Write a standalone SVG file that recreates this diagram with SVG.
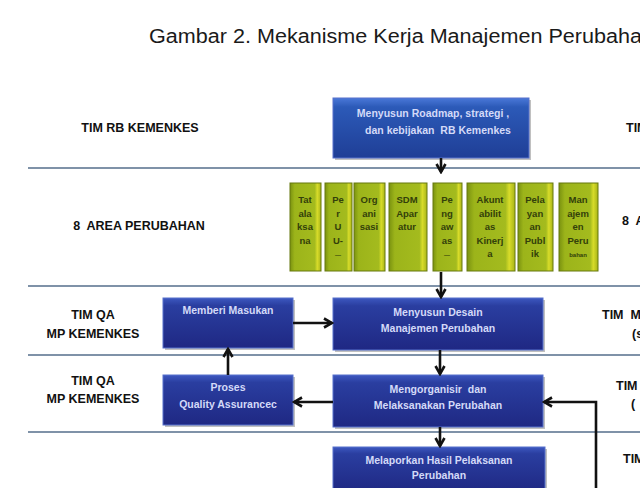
<svg xmlns="http://www.w3.org/2000/svg" width="640" height="488" viewBox="0 0 640 488">
<defs>
<linearGradient id="blue" x1="0" y1="0" x2="0" y2="1">
<stop offset="0" stop-color="#3d58c0"/>
<stop offset="0.15" stop-color="#2a3ea0"/>
<stop offset="1" stop-color="#1f2883"/>
</linearGradient>
<linearGradient id="blue1" x1="0" y1="0" x2="0" y2="1">
<stop offset="0" stop-color="#4a78d8"/>
<stop offset="0.15" stop-color="#2c5ab8"/>
<stop offset="1" stop-color="#1f3e96"/>
</linearGradient>
<linearGradient id="green" x1="0" y1="0" x2="1" y2="0">
<stop offset="0" stop-color="#7a9210"/>
<stop offset="0.15" stop-color="#9cb41a"/>
<stop offset="0.8" stop-color="#a4bb1e"/>
<stop offset="0.88" stop-color="#d8dc2a"/>
<stop offset="1" stop-color="#a8b418"/>
</linearGradient>
<marker id="ah" viewBox="0 0 12 12" refX="10" refY="6" markerWidth="12" markerHeight="12" markerUnits="userSpaceOnUse" orient="auto">
<path d="M2,1.5 L10,6 L2,10.5" fill="none" stroke="#111" stroke-width="2.6" stroke-linejoin="miter"/>
</marker>
<style>
.title{font-family:"Liberation Sans",Arial,sans-serif;font-size:19.5px;fill:#1a1a1a}
.lbl{font-family:"Liberation Sans",Arial,sans-serif;font-weight:bold;font-size:12.5px;fill:#111;text-anchor:middle}
.lbr{font-family:"Liberation Sans",Arial,sans-serif;font-weight:bold;font-size:12.5px;fill:#111}
.bt{font-family:"Liberation Sans",Arial,sans-serif;font-weight:bold;font-size:10.5px;fill:#d4daf8;text-anchor:middle}
.gt{font-family:"Liberation Sans",Arial,sans-serif;font-weight:bold;font-size:9.5px;fill:#33400a;text-anchor:middle}
.sep{stroke:#7f92a8;stroke-width:1.8}
.shadow{fill:#8c8c8c;opacity:0.55}
.bbox{fill:url(#blue);stroke:#5670cc;stroke-width:1}
.gbox{fill:url(#green);stroke:#66780e;stroke-width:1}
.conn{stroke:#111;stroke-width:2.6;fill:none;marker-end:url(#ah)}
</style>
</defs>
<rect width="640" height="488" fill="#ffffff"/>
<text class="title" x="149" y="43" textLength="505" lengthAdjust="spacingAndGlyphs">Gambar 2. Mekanisme Kerja Manajemen Perubahan</text>

<g id="separators">
<line class="sep" x1="28" y1="168" x2="640" y2="168"/>
<line class="sep" x1="28" y1="286" x2="640" y2="286"/>
<line class="sep" x1="28" y1="355" x2="640" y2="355"/>
<line class="sep" x1="28" y1="432" x2="640" y2="432"/>
</g>

<g id="row-labels">
<text class="lbl" x="140" y="132">TIM RB KEMENKES</text>
<text class="lbl" x="139" y="230" xml:space="preserve">8  AREA PERUBAHAN</text>
<text class="lbl" x="93" y="319">TIM QA</text>
<text class="lbl" x="93" y="338">MP KEMENKES</text>
<text class="lbl" x="93" y="385">TIM QA</text>
<text class="lbl" x="93" y="403">MP KEMENKES</text>
<text class="lbr" x="626" y="132">TIM</text>
<text class="lbr" x="622" y="225" xml:space="preserve">8  A</text>
<text class="lbr" x="602" y="319" xml:space="preserve">TIM  M</text>
<text class="lbr" x="632" y="338">(s</text>
<text class="lbr" x="616" y="390">TIM</text>
<text class="lbr" x="631" y="408">(</text>
<text class="lbr" x="623" y="463">TIM</text>
</g>

<g id="roadmap">
<rect class="shadow" x="335" y="100" width="196" height="60"/>
<rect class="bbox" x="333" y="98" width="196" height="60" style="fill:url(#blue1)"/>
<text class="bt" x="433" y="117">Menyusun Roadmap, strategi ,</text>
<text class="bt" x="438" y="134" xml:space="preserve">dan kebijakan  RB Kemenkes</text>
</g>

<g id="area-1">
<rect class="gbox" x="290" y="183" width="31" height="88"/>
<text class="gt" x="305" y="203">Tat</text><text class="gt" x="305" y="217">ala</text><text class="gt" x="305" y="230">ksa</text><text class="gt" x="305" y="244">na</text>
</g>
<g id="area-2">
<rect class="gbox" x="325" y="183" width="27" height="88"/>
<text class="gt" x="338" y="203">Pe</text><text class="gt" x="338" y="217">r</text><text class="gt" x="338" y="230">U</text><text class="gt" x="338" y="244">U-</text><text class="gt" x="338" y="257" style="font-size:6px">—</text>
</g>
<g id="area-3">
<rect class="gbox" x="354" y="183" width="31" height="88"/>
<text class="gt" x="369" y="203">Org</text><text class="gt" x="369" y="217">ani</text><text class="gt" x="369" y="230">sasi</text>
</g>
<g id="area-4">
<rect class="gbox" x="389" y="183" width="38" height="88"/>
<text class="gt" x="407" y="203">SDM</text><text class="gt" x="407" y="217">Apar</text><text class="gt" x="407" y="230">atur</text>
</g>
<g id="area-5">
<rect class="gbox" x="433" y="183" width="29" height="88"/>
<text class="gt" x="447" y="203">Pe</text><text class="gt" x="447" y="217">ng</text><text class="gt" x="447" y="230">aw</text><text class="gt" x="447" y="244">as</text><text class="gt" x="447" y="257" style="font-size:6px">—</text>
</g>
<g id="area-6">
<rect class="gbox" x="467" y="183" width="48" height="88"/>
<text class="gt" x="490" y="203">Akunt</text><text class="gt" x="490" y="217">abilit</text><text class="gt" x="490" y="230">as</text><text class="gt" x="490" y="244">Kinerj</text><text class="gt" x="490" y="257">a</text>
</g>
<g id="area-7">
<rect class="gbox" x="518" y="183" width="35" height="88"/>
<text class="gt" x="535" y="203">Pela</text><text class="gt" x="535" y="217">yan</text><text class="gt" x="535" y="230">an</text><text class="gt" x="535" y="244">Publ</text><text class="gt" x="535" y="257">ik</text>
</g>
<g id="area-8">
<rect class="gbox" x="559" y="183" width="39" height="88"/>
<text class="gt" x="578" y="203">Man</text><text class="gt" x="578" y="217">ajem</text><text class="gt" x="578" y="230">en</text><text class="gt" x="578" y="244">Peru</text><text class="gt" x="578" y="257" style="font-size:6px">bahan</text>
</g>

<g id="desain">
<rect class="shadow" x="335" y="300" width="210" height="52"/>
<rect class="bbox" x="333" y="298" width="210" height="52"/>
<text class="bt" x="438" y="316">Menyusun Desain</text>
<text class="bt" x="438" y="332">Manajemen Perubahan</text>
</g>

<g id="mengorganisir">
<rect class="shadow" x="335" y="377" width="210" height="52"/>
<rect class="bbox" x="333" y="375" width="210" height="52"/>
<text class="bt" x="438" y="393" xml:space="preserve">Mengorganisir  dan</text>
<text class="bt" x="438" y="409">Melaksanakan Perubahan</text>
</g>

<g id="melaporkan">
<rect class="shadow" x="335" y="449" width="212" height="45"/>
<rect class="bbox" x="333" y="447" width="212" height="45"/>
<text class="bt" x="439" y="464">Melaporkan Hasil Pelaksanan</text>
<text class="bt" x="439" y="479">Perubahan</text>
</g>

<g id="masukan">
<rect class="shadow" x="165" y="300" width="130" height="50"/>
<rect class="bbox" x="163" y="298" width="130" height="50"/>
<text class="bt" x="228" y="314">Memberi Masukan</text>
</g>

<g id="qa">
<rect class="shadow" x="165" y="377" width="130" height="50"/>
<rect class="bbox" x="163" y="375" width="130" height="50"/>
<text class="bt" x="228" y="391">Proses</text>
<text class="bt" x="228" y="408">Quality Assurancec</text>
</g>

<g id="connectors">
<path class="conn" d="M441,158 L441,172"/>
<path class="conn" d="M441,272 L441,297"/>
<path class="conn" d="M440,350 L440,374"/>
<path class="conn" d="M440,427 L440,446"/>
<path class="conn" d="M293,323 L332,323"/>
<path class="conn" d="M228,375 L228,349"/>
<path class="conn" d="M333,402 L294,402"/>
<path class="conn" d="M596,488 L596,402 L544,402"/>
</g>
</svg>
